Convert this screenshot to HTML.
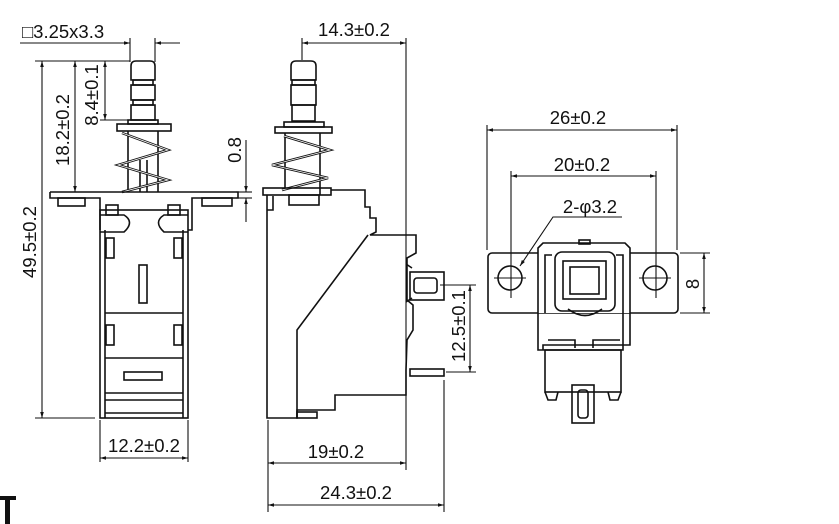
<!DOCTYPE html>
<html><head><meta charset="utf-8"><style>
html,body{margin:0;padding:0;background:#fff;}
svg{display:block;}
text{font-family:"Liberation Sans",Arial,sans-serif;font-size:18.5px;fill:#111;}
</style></head><body>
<svg width="839" height="524" viewBox="0 0 839 524" xmlns="http://www.w3.org/2000/svg">
<defs>
<marker id="a" viewBox="0 0 10 10" refX="10" refY="5" markerWidth="11" markerHeight="6" orient="auto-start-reverse" markerUnits="userSpaceOnUse"><path d="M0,2 L10,5 L0,8 Z" fill="#111"/></marker>
</defs>
<g stroke="#111" fill="none" stroke-width="1.1">
<line x1="20" y1="43" x2="130" y2="43" marker-end="url(#a)"/>
<line x1="180" y1="43" x2="155" y2="43" marker-end="url(#a)"/>
<line x1="130" y1="38" x2="130" y2="62"/><line x1="155" y1="38" x2="155" y2="62"/>
<line x1="35" y1="61" x2="130" y2="61"/>
<line x1="42" y1="61" x2="42" y2="418" marker-start="url(#a)" marker-end="url(#a)"/>
<line x1="75" y1="61" x2="75" y2="192" marker-start="url(#a)" marker-end="url(#a)"/>
<line x1="105" y1="61" x2="105" y2="120" marker-start="url(#a)" marker-end="url(#a)"/>
<line x1="100" y1="120" x2="128" y2="120"/>
<line x1="35" y1="418" x2="95" y2="418"/>
<line x1="246" y1="140" x2="246" y2="192" marker-end="url(#a)"/>
<line x1="246" y1="222" x2="246" y2="198" marker-end="url(#a)"/>
<line x1="236" y1="192" x2="252" y2="192"/><line x1="236" y1="198" x2="252" y2="198"/>
<line x1="100" y1="420" x2="100" y2="462"/><line x1="188" y1="420" x2="188" y2="462"/>
<line x1="100" y1="458" x2="188" y2="458" marker-start="url(#a)" marker-end="url(#a)"/>
<g stroke-width="1.6">
<path d="M131,80 V66 Q131,61 136,61 H150 Q155,61 155,66 V80 Z"/>
<rect x="133" y="80" width="20" height="5"/>
<rect x="131" y="85" width="24" height="15"/>
<rect x="133" y="100" width="20" height="5"/>
<rect x="131" y="105" width="24" height="15"/>
<rect x="128" y="120" width="30" height="4"/>
<rect x="117" y="124" width="54" height="7"/>
<line x1="128" y1="131" x2="128" y2="192"/><line x1="158" y1="131" x2="158" y2="192"/>
<line x1="140" y1="160" x2="140" y2="192"/><line x1="147" y1="160" x2="147" y2="192"/>
<path d="M122,133 L168,150 L118,165 L168,180 L122,192" stroke-width="2.5"/>
<path d="M122,133 L168,150 L118,165 L168,180 L122,192" stroke="#fff" stroke-width="0.8"/>
<path d="M50,192 H238 V198 H192 V230 H188 M50,192 V198 H100 V230"/>
<rect x="58" y="198" width="27" height="8"/><rect x="202" y="198" width="30" height="8"/>
<rect x="100" y="210" width="88" height="208"/>
<line x1="105" y1="230" x2="105" y2="418"/><line x1="183" y1="230" x2="183" y2="418"/>
<path d="M100,215 H124 Q135,222 124,232 H100"/><path d="M188,215 H164 Q153,222 164,232 H188"/>
<rect x="106" y="205" width="12" height="10"/><rect x="168" y="205" width="12" height="10"/>
<rect x="106" y="238" width="8" height="20"/><rect x="174" y="238" width="8" height="20"/>
<rect x="139" y="265" width="8" height="38"/>
<line x1="105" y1="313" x2="183" y2="313"/>
<rect x="106" y="325" width="8" height="20"/><rect x="174" y="325" width="8" height="20"/>
<line x1="105" y1="358" x2="183" y2="358"/>
<rect x="124" y="372" width="38" height="8"/>
<line x1="105" y1="393" x2="183" y2="393"/><line x1="105" y1="400" x2="183" y2="400"/>
<line x1="105" y1="413" x2="183" y2="413"/>
</g>
<line x1="302" y1="43" x2="406" y2="43" marker-start="url(#a)" marker-end="url(#a)"/>
<line x1="302" y1="38" x2="302" y2="60"/><line x1="406" y1="38" x2="406" y2="470"/>
<line x1="268" y1="420" x2="268" y2="512"/><line x1="444" y1="380" x2="444" y2="512"/>
<line x1="268" y1="463" x2="406" y2="463" marker-start="url(#a)" marker-end="url(#a)"/>
<line x1="268" y1="505" x2="444" y2="505" marker-start="url(#a)" marker-end="url(#a)"/>
<line x1="440" y1="285" x2="476" y2="285"/><line x1="446" y1="372" x2="476" y2="372"/>
<line x1="470" y1="285" x2="470" y2="372" marker-start="url(#a)" marker-end="url(#a)"/>
<g stroke-width="1.6">
<path d="M291,80 V66 Q291,61 296,61 H311 Q316,61 316,66 V80 Z"/>
<rect x="292" y="80" width="23" height="5"/><rect x="291" y="85" width="25" height="20"/>
<rect x="292" y="105" width="23" height="16"/>
<rect x="284" y="122" width="40" height="5"/><rect x="275" y="127" width="57" height="6"/>
<line x1="285" y1="133" x2="285" y2="188"/><line x1="320" y1="133" x2="320" y2="195"/>
<path d="M284,136 L330,150 L272,165 L328,178 L282,190" stroke-width="2.5"/>
<path d="M284,136 L330,150 L272,165 L328,178 L282,190" stroke="#fff" stroke-width="0.8"/>
<rect x="263" y="188" width="68" height="7"/>
<rect x="289" y="195" width="30" height="10"/>
<path d="M267,195 V418 H297 V410 H335 V395 H406 V370 L407,340 L413,330 V305 L407,300 V258 L416,253 V235 H370 L376,232 V218 L370,218 V207 H365 V190 H331"/>
<path d="M273,196 V210 H267"/>
<path d="M368,235 L297,330 V418"/>
<rect x="297" y="412" width="20" height="6"/>
<rect x="410" y="272" width="34" height="28"/>
<rect x="414" y="278" width="23" height="15" rx="3"/>
<rect x="410" y="369" width="34" height="7"/>
<line x1="406" y1="264" x2="412" y2="268"/><line x1="406" y1="302" x2="412" y2="298"/>
</g>
<line x1="487" y1="130" x2="677" y2="130" marker-start="url(#a)" marker-end="url(#a)"/>
<line x1="487" y1="125" x2="487" y2="250"/><line x1="677" y1="125" x2="677" y2="250"/>
<line x1="511" y1="176" x2="656" y2="176" marker-start="url(#a)" marker-end="url(#a)"/>
<line x1="511" y1="171" x2="511" y2="298"/><line x1="656" y1="171" x2="656" y2="298"/>
<path d="M622,217 H553 L520,266" marker-end="url(#a)"/>
<line x1="680" y1="253" x2="710" y2="253"/><line x1="680" y1="313" x2="710" y2="313"/>
<line x1="704" y1="253" x2="704" y2="313" marker-start="url(#a)" marker-end="url(#a)"/>
<g stroke-width="1.6">
<rect x="488" y="253" width="190" height="60" rx="4"/>
<circle cx="510" cy="278" r="12"/><circle cx="655" cy="278" r="12"/>
</g>
<line x1="494" y1="278" x2="526" y2="278"/><line x1="639" y1="278" x2="671" y2="278"/>
<g stroke-width="1.6">
<path d="M538,313 V248 L543,243 H625 L630,248 V313" fill="#fff"/>
<path d="M545,313 V255 H552 M623,313 V255 H616"/>
<rect x="579" y="240" width="11" height="4"/>
<rect x="555" y="252" width="60" height="59" rx="7"/>
<rect x="563" y="261" width="43" height="38"/>
<rect x="570" y="267" width="29" height="27"/>
<path d="M568,309 Q585,322 602,309"/>
<path d="M538,313 V350 H623 V313 M543,350 V345 H630 V313"/>
<path d="M548,340 H575 V348 M620,340 H593 V348"/>
<rect x="545" y="350" width="76" height="42"/>
<path d="M545,392 L548,400 H556 L558,392 M621,392 L618,400 H610 L608,392"/>
<rect x="572" y="385" width="22" height="38"/>
<rect x="578" y="390" width="10" height="28" rx="3"/>
</g>
</g>
<g>
<text x="22" y="38">□3.25x3.3</text>
<text transform="translate(36,242) rotate(-90)" text-anchor="middle">49.5±0.2</text>
<text transform="translate(69,130) rotate(-90)" text-anchor="middle">18.2±0.2</text>
<text transform="translate(98,95) rotate(-90)" text-anchor="middle">8.4±0.1</text>
<text transform="translate(241,150) rotate(-90)" text-anchor="middle">0.8</text>
<text x="144" y="452" text-anchor="middle">12.2±0.2</text>
<text x="354" y="36" text-anchor="middle">14.3±0.2</text>
<text transform="translate(465,326) rotate(-90)" text-anchor="middle">12.5±0.1</text>
<text x="336" y="458" text-anchor="middle">19±0.2</text>
<text x="356" y="499" text-anchor="middle">24.3±0.2</text>
<text x="578" y="124" text-anchor="middle">26±0.2</text>
<text x="582" y="171" text-anchor="middle">20±0.2</text>
<text x="590" y="213" text-anchor="middle">2-φ3.2</text>
<text transform="translate(699,284) rotate(-90)" text-anchor="middle">8</text>
</g>
<rect x="0" y="496" width="16" height="4" fill="#111"/>
<rect x="5" y="496" width="5" height="28" fill="#111"/>
</svg>
</body></html>
